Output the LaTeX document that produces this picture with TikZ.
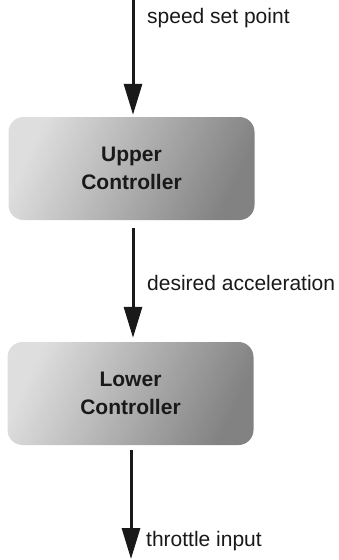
\documentclass[tikz,border=0pt]{standalone}
\usepackage{fontspec}
\setmainfont{Liberation Sans}
\usepackage{tikz}
\usetikzlibrary{positioning,arrows.meta,calc}
\definecolor{boxlight}{RGB}{222,222,222}
\definecolor{boxdark}{RGB}{130,130,130}
\definecolor{ink}{RGB}{25,25,25}
\tikzset{
  ctrl/.style={rounded corners=15pt,align=center,font=\fontsize{21}{28}\selectfont\bfseries,
    text=ink,minimum width=246pt,minimum height=103pt,inner sep=0pt,
    shading=axis,left color=boxlight,right color=boxdark,shading angle=65},
  lbl/.style={anchor=west,inner sep=0pt,font=\fontsize{21}{25}\selectfont,text=ink},
  ar/.style={-{Triangle[length=31pt,width=18pt]},line width=3pt,ink},
}
\begin{document}
\begin{tikzpicture}[x=1pt,y=-1pt]
  \useasboundingbox (0,0) rectangle (339,560);
  \node[ctrl] (upper) at (131.5,168.5) {Upper\\Controller};
  \node[ctrl] (lower) at (130.5,393.5) {Lower\\Controller};
  \coordinate (in) at (133,0);
  \coordinate (out) at (131,559);
  \draw[ar,shorten >=2pt] (in) -- (in |- upper.north);
  \draw[ar,shorten <=8pt,shorten >=4pt] ($(upper.south)+(1.5,0)$) -- ($(lower.north)+(2.5,0)$);
  \draw[ar,shorten <=5pt] (lower.south -| out) -- (out);
  \node[lbl] (setpt) at (147,18) {speed set point};
  \node[lbl] (accel) at (147,283) {desired acceleration};
  \node[lbl] (thr) at (146,541) {throttle input};
\end{tikzpicture}
\end{document}
